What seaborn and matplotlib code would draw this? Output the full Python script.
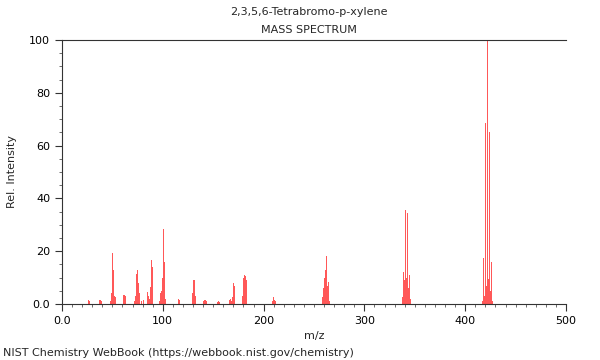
import matplotlib
matplotlib.use("Agg")
import matplotlib.pyplot as plt
import seaborn as sns
import pandas as pd
from matplotlib.ticker import MultipleLocator

# peaks (m/z, relative intensity)
mz = [26, 27, 37, 38, 39,
      48, 49, 50, 51, 52, 53,
      61, 62, 63,
      72, 73, 74, 75, 76, 77, 79, 81,
      85, 86, 87, 88, 89, 90,
      97, 98, 99, 100, 101, 102, 103,
      116, 117,
      129, 130, 131, 132,
      140, 141, 142, 143,
      154, 155, 156,
      166, 167, 168, 169, 170, 171,
      179, 180, 181, 182, 183,
      209, 210, 211, 212,
      258, 259, 260, 261, 262, 263, 264, 265,
      338, 339, 340, 341, 342, 343, 344, 345, 346,
      417, 418, 419, 420, 421, 422, 423, 424, 425, 426, 427]
intensity = [1.5, 1.0, 1.5, 1.5, 1.0,
             1.0, 4.0, 19.4, 13.0, 3.0, 2.5,
             3.5, 3.5, 3.0,
             1.0, 3.0, 11.5, 13.0, 8.0, 4.0, 1.0, 1.5,
             4.5, 3.0, 2.0, 6.5, 16.5, 14.0,
             1.0, 4.0, 5.0, 10.0, 28.5, 16.0, 2.0,
             2.0, 1.5,
             4.0, 9.0, 9.0, 3.0,
             1.0, 1.5, 1.5, 1.0,
             0.7, 1.0, 0.7,
             1.5, 2.0, 1.0, 2.5, 8.0, 7.0,
             3.0, 10.0, 11.0, 10.5, 9.0,
             1.0, 2.5, 1.5, 1.0,
             2.5, 6.0, 10.0, 13.0, 18.0, 7.0, 8.5, 1.0,
             2.5, 12.0, 9.0, 35.5, 10.0, 34.5, 6.0, 11.0, 2.0,
             1.0, 17.5, 3.0, 68.5, 7.0, 100.0, 9.5, 65.0, 5.0, 16.0, 1.0]

df = pd.DataFrame({"mz": mz, "intensity": intensity})

sns.set_style("ticks")
plt.rcParams["font.family"] = ["DejaVu Sans"]

fig = plt.figure(figsize=(6, 3.6), dpi=100)
ax = fig.add_axes([0.1033, 0.1556, 0.84, 0.7333])

sns.histplot(data=df, x="mz", weights="intensity", discrete=True,
             color="#ff2020", alpha=0.75, linewidth=0, ax=ax)

ax.set_xlim(0, 500)
ax.set_ylim(0, 100)
ax.xaxis.set_major_locator(MultipleLocator(100))
ax.xaxis.set_minor_locator(MultipleLocator(10))
ax.yaxis.set_major_locator(MultipleLocator(20))
ax.yaxis.set_minor_locator(MultipleLocator(5))
ax.set_xticks([0, 100, 200, 300, 400, 500])
ax.set_xticklabels(["0.0", "100", "200", "300", "400", "500"])
ax.set_yticks([0, 20, 40, 60, 80, 100])
ax.set_yticklabels(["0.0", "20", "40", "60", "80", "100"])
ax.tick_params(which="major", length=5, width=0.8, labelsize=8, colors="#333333",
               labelcolor="black")
ax.tick_params(which="minor", length=2.5, width=0.6, colors="#555555")

for s in ["left", "bottom", "top"]:
    ax.spines[s].set_color("#333333")
    ax.spines[s].set_linewidth(0.8)
ax.spines["right"].set_visible(False)

ax.set_xlabel("m/z", fontsize=8)
ax.set_ylabel("Rel. Intensity", fontsize=8, labelpad=9)

fig.text(0.515, 0.967, "2,3,5,6-Tetrabromo-p-xylene", ha="center", va="center", fontsize=8)
fig.text(0.515, 0.917, "MASS SPECTRUM", ha="center", va="center", fontsize=8)
fig.text(0.005, 0.02, "NIST Chemistry WebBook (https://webbook.nist.gov/chemistry)",
         ha="left", va="center", fontsize=8)

fig.savefig("out.png", dpi=100)
